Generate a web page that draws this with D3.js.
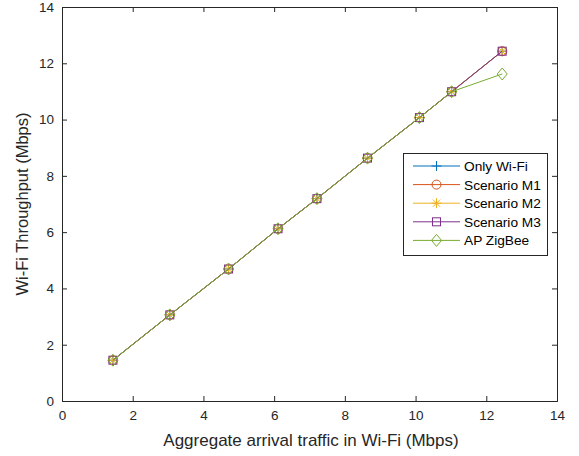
<!DOCTYPE html>
<html><head><meta charset="utf-8">
<script src="https://cdn.jsdelivr.net/npm/d3@7"></script>
<style>body{margin:0;background:#fff}svg{display:block}text{font-family:"Liberation Sans",Arial,sans-serif}</style>
</head><body><svg id="c" width="579" height="456"></svg>
<script>
const xValues = [1.44, 3.05, 4.71, 6.11, 7.21, 8.64, 10.11, 11.02, 12.45];
const onlyWiFi = [1.45, 3.06, 4.69, 6.12, 7.19, 8.63, 10.07, 10.99, 12.43];
const scenarioM1 = [1.45, 3.06, 4.69, 6.12, 7.19, 8.63, 10.07, 10.99, 12.43];
const scenarioM2 = [1.45, 3.06, 4.69, 6.12, 7.19, 8.63, 10.07, 10.99, 12.43];
const scenarioM3 = [1.45, 3.06, 4.69, 6.12, 7.19, 8.63, 10.07, 10.99, 12.43];
const apZigBee = [1.45, 3.06, 4.69, 6.12, 7.19, 8.63, 10.07, 10.99, 11.62];
const seriesNames = ["Only Wi-Fi", "Scenario M1", "Scenario M2", "Scenario M3", "AP ZigBee"];
const xTicks = [0, 2, 4, 6, 8, 10, 12, 14];
const yTicks = [0, 2, 4, 6, 8, 10, 12, 14];

const colors = ["#0072BD", "#D95319", "#EDB120", "#7E2F8E", "#77AC30"];
const markers = ["plus", "circle", "star", "square", "diamond"];
const allSeries = [onlyWiFi, scenarioM1, scenarioM2, scenarioM3, apZigBee];

const svg = d3.select("#c");
const L = 62, R = 557, T = 7, B = 401;
const x = d3.scaleLinear().domain([0, 14]).range([L, R]);
const y = d3.scaleLinear().domain([0, 14]).range([B, T]);

const axCol = "#262626";
const gx = svg.append("g").attr("transform", `translate(0,${B})`)
  .call(d3.axisBottom(x).tickValues(xTicks).tickSize(-5).tickPadding(9).tickFormat(d3.format("d")));
const gy = svg.append("g").attr("transform", `translate(${L},0)`)
  .call(d3.axisLeft(y).tickValues(yTicks).tickSize(-5).tickPadding(8).tickFormat(d3.format("d")));
const gx2 = svg.append("g").attr("transform", `translate(0,${T})`)
  .call(d3.axisTop(x).tickValues(xTicks).tickSize(-5).tickFormat(""));
const gy2 = svg.append("g").attr("transform", `translate(${R},0)`)
  .call(d3.axisRight(y).tickValues(yTicks).tickSize(-5).tickFormat(""));
[gx, gy, gx2, gy2].forEach(g => {
  g.select(".domain").attr("stroke", axCol).attr("stroke-width", 1);
  g.selectAll(".tick line").attr("stroke", axCol);
  g.selectAll("text").attr("fill", axCol).style("font-size", "13.5px");
});

svg.append("text").attr("x", 311).attr("y", 446).attr("text-anchor", "middle")
  .attr("fill", axCol).style("font-size", "17px").text("Aggregate arrival traffic in Wi-Fi (Mbps)");
svg.append("text").attr("transform", `translate(28,${(T + B) / 2}) rotate(-90)`).attr("text-anchor", "middle")
  .attr("fill", axCol).style("font-size", "16.5px").text("Wi-Fi Throughput (Mbps)");

function drawMarker(g, type, cx, cy, col) {
  if (type === "plus") {
    g.append("path").attr("d", `M${cx-5},${cy}H${cx+5}M${cx},${cy-5}V${cy+5}`).attr("stroke", col).attr("fill", "none");
  } else if (type === "circle") {
    g.append("circle").attr("cx", cx).attr("cy", cy).attr("r", 4.5).attr("stroke", col).attr("fill", "none");
  } else if (type === "star") {
    g.append("path").attr("d", `M${cx-5},${cy}H${cx+5}M${cx},${cy-5}V${cy+5}M${cx-3.6},${cy-3.6}L${cx+3.6},${cy+3.6}M${cx-3.6},${cy+3.6}L${cx+3.6},${cy-3.6}`).attr("stroke", col).attr("fill", "none");
  } else if (type === "square") {
    g.append("rect").attr("x", cx - 4).attr("y", cy - 4).attr("width", 8).attr("height", 8).attr("stroke", col).attr("fill", "none");
  } else if (type === "diamond") {
    g.append("path").attr("d", `M${cx},${cy-6}L${cx+5},${cy}L${cx},${cy+6}L${cx-5},${cy}Z`).attr("stroke", col).attr("fill", "none");
  }
}

const line = d3.line().x((d, i) => x(xValues[i])).y(d => y(d));
allSeries.forEach((s, k) => {
  const g = svg.append("g");
  g.append("path").datum(s).attr("d", line).attr("fill", "none").attr("stroke", colors[k]).attr("stroke-width", 1);
  s.forEach((v, i) => drawMarker(g, markers[k], x(xValues[i]), y(v), colors[k]));
});

const lg = svg.append("g");
lg.append("rect").attr("x", 403.5).attr("y", 153.5).attr("width", 144).attr("height", 102)
  .attr("fill", "#fff").attr("stroke", axCol);
seriesNames.forEach((n, k) => {
  const ly = 166 + k * 18.6;
  lg.append("line").attr("x1", 413).attr("x2", 460).attr("y1", ly).attr("y2", ly).attr("stroke", colors[k]);
  drawMarker(lg, markers[k], 436.5, ly, colors[k]);
  lg.append("text").attr("x", 464).attr("y", ly + 5).attr("fill", "#000").style("font-size", "13.7px").text(n);
});
</script></body></html>
